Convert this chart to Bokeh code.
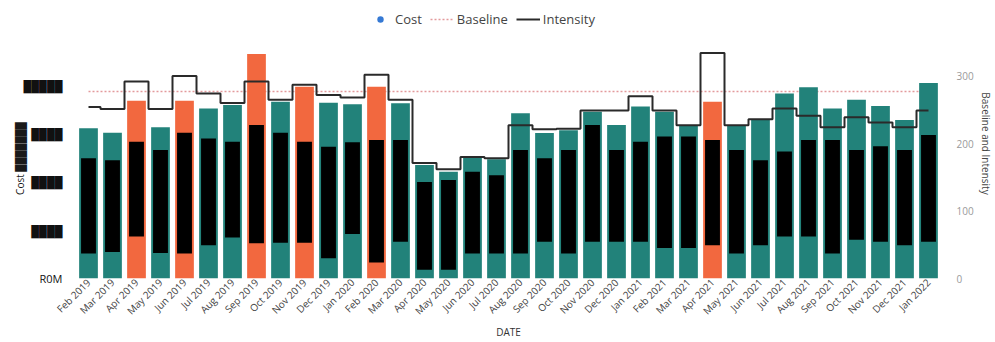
import math

from bokeh.embed import file_html
from bokeh.models import (ColumnDataSource, FactorRange, FixedTicker, Legend,
                          LegendItem, LinearAxis, Range1d)
from bokeh.plotting import figure
from bokeh.resources import INLINE

# Monthly categories
months = [
    "Feb 2019", "Mar 2019", "Apr 2019", "May 2019", "Jun 2019", "Jul 2019",
    "Aug 2019", "Sep 2019", "Oct 2019", "Nov 2019", "Dec 2019", "Jan 2020",
    "Feb 2020", "Mar 2020", "Apr 2020", "May 2020", "Jun 2020", "Jul 2020",
    "Aug 2020", "Sep 2020", "Oct 2020", "Nov 2020", "Dec 2020", "Jan 2021",
    "Feb 2021", "Mar 2021", "Apr 2021", "May 2021", "Jun 2021", "Jul 2021",
    "Aug 2021", "Sep 2021", "Oct 2021", "Nov 2021", "Dec 2021", "Jan 2022",
]

# Monthly cost
cost = [
    155500, 151000, 184000, 156500, 184000, 176000,
    179500, 232500, 183000, 198500, 182000, 180500,
    198500, 181500, 117500, 110500, 126000, 123500,
    171000, 150500, 153500, 172500, 159000, 178000,
    172500, 158000, 183000, 158000, 164000, 191500,
    198000, 176000, 185000, 178500, 164000, 202500,
]

# Extent of the blacked-out data label inside each bar (cost units)
label_lo = [
    26000, 27500, 43500, 26500, 26000, 34500,
    42500, 36500, 37000, 37000, 21000, 46000,
    16500, 38000, 9000, 9000, 26000, 26000,
    26000, 38000, 26000, 38000, 38000, 38000,
    31500, 31500, 34500, 26000, 34500, 43500,
    43500, 26000, 40000, 38000, 34500, 38000,
]
label_hi = [
    124500, 122500, 141500, 133000, 151000, 145000,
    141500, 159000, 151000, 141500, 136500, 141000,
    143500, 143500, 100000, 102000, 110500, 107000,
    133000, 124500, 133000, 159000, 133000, 141500,
    147000, 147000, 143500, 133000, 122500, 131500,
    143500, 143500, 133000, 137000, 133000, 148500,
]

# Monthly intensity and the fixed baseline (right axis)
intensity = [
    254, 251, 292, 251, 300, 274,
    260, 292, 265, 287, 272, 268,
    302, 265, 171, 162, 180, 178,
    227, 221, 222, 249, 249, 270,
    249, 227, 334, 227, 236, 252,
    241, 224, 239, 231, 224, 249,
]
baseline = 277

# Axis ticks
cost_ticks = [0, 50000, 100000, 150000, 200000]
cost_tick_labels = ["R0M", "████", "████", "████", "█████"]
index_ticks = [0, 100, 200, 300]

TEAL = "#22827a"
ORANGE = "#f2683f"
FONT = "Open Sans"

# Months above the baseline are highlighted
bar_colors = [ORANGE if v > baseline else TEAL for v in intensity]

src = ColumnDataSource(dict(month=months, cost=cost, lo=label_lo, hi=label_hi,
                            intensity=intensity, color=bar_colors,
                            base=[baseline] * len(months)))

p = figure(
    x_range=FactorRange(factors=months, range_padding=0),
    y_range=Range1d(0, 279500),
    width=995, height=342,
    output_backend="svg", toolbar_location=None,
    min_border_left=76, min_border_right=53,
    min_border_top=8, min_border_bottom=64,
)
p.extra_y_ranges = {"idx": Range1d(0, 400)}
p.outline_line_color = None
p.xgrid.visible = False
p.ygrid.visible = False
p.background_fill_color = "white"
p.border_fill_color = "white"

base_r = p.line(x="month", y="base", source=src, y_range_name="idx",
                line_color="#e39a9c", line_dash="2 2", line_width=1.5)
p.vbar(x="month", top="cost", width=0.78, source=src,
       fill_color="color", line_color=None)
p.vbar(x="month", bottom="lo", top="hi", width=0.62, source=src,
       fill_color="black", line_color=None)
step_r = p.step(x="month", y="intensity", source=src, mode="center",
                y_range_name="idx", line_color="#2a2a2a", line_width=2)
# Zero-size markers on the cost values: they only carry the legend swatch
dot_r = p.scatter(x="month", y="cost", source=src, size=0,
                  fill_color="#3579d4", line_color=None)

# Left axis: cost
ya = p.yaxis[0]
ya.ticker = FixedTicker(ticks=cost_ticks)
ya.major_label_overrides = {t: s for t, s in zip(cost_ticks, cost_tick_labels)}
ya.axis_label = "Cost ███████\u2003\u2003\u2003"
ya.axis_label_text_font = FONT
ya.axis_label_text_font_size = "10px"
ya.axis_label_text_font_style = "normal"
ya.axis_label_text_color = "#1a1a1a"
ya.axis_label_standoff = -6
ya.major_label_text_font = FONT
ya.major_label_text_font_size = "11px"
ya.major_label_text_color = "#111111"
ya.major_label_standoff = 14
ya.axis_line_color = None
ya.major_tick_line_color = None
ya.minor_tick_line_color = None
ya.major_tick_out = 0
ya.major_tick_in = 0

# Right axis: baseline and intensity
ra = LinearAxis(y_range_name="idx", ticker=FixedTicker(ticks=index_ticks),
                axis_label="Baseline and Intensity")
ra.axis_label_text_font = FONT
ra.axis_label_text_font_size = "10px"
ra.axis_label_text_font_style = "normal"
ra.axis_label_text_color = "#444444"
ra.axis_label_standoff = 2
ra.major_label_text_font = FONT
ra.major_label_text_font_size = "10px"
ra.major_label_text_color = "#9a9a9a"
ra.major_label_standoff = 16
ra.axis_line_color = None
ra.major_tick_line_color = None
ra.minor_tick_line_color = None
ra.major_tick_out = 0
ra.major_tick_in = 0
p.add_layout(ra, "right")

# Bottom axis: months
xa = p.xaxis[0]
xa.axis_label = "DATE"
xa.axis_label_text_font = FONT
xa.axis_label_text_font_size = "10px"
xa.axis_label_text_font_style = "normal"
xa.axis_label_text_color = "#333333"
xa.axis_label_standoff = 0
xa.major_label_orientation = math.pi / 4
xa.major_label_text_font = FONT
xa.major_label_text_font_size = "10px"
xa.major_label_text_color = "#444444"
xa.major_label_standoff = 2
xa.axis_line_color = None
xa.major_tick_line_color = None
xa.major_tick_out = 0
xa.major_tick_in = 0

# Legend across the top of the plotting area
legend = Legend(items=[
    LegendItem(label="Cost", renderers=[dot_r]),
    LegendItem(label="Baseline", renderers=[base_r]),
    LegendItem(label="Intensity", renderers=[step_r]),
], orientation="horizontal", location=(292, 250))
legend.label_text_font = FONT
legend.label_text_font_size = "13px"
legend.label_text_color = "#444444"
legend.glyph_width = 24
legend.glyph_height = 16
legend.label_height = 16
legend.label_standoff = 3
legend.spacing = 8
legend.padding = 0
legend.margin = 0
legend.border_line_color = None
legend.background_fill_alpha = 0
p.add_layout(legend)

open("out.html", "w").write(file_html(p, INLINE))
